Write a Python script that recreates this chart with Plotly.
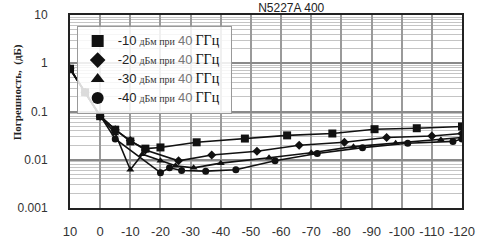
import plotly.graph_objects as go

# ---- data ----
x_tickvals = [10, 0, -10, -20, -30, -40, -50, -60, -70, -80, -90, -100, -110, -120]
x_ticktext = ["10", "0", "-10", "-20", "-30", "-40", "-50", "-60", "-70", "-80", "-90", "-100", "-110", "-120"]
y_tickvals = [0.001, 0.01, 0.1, 1, 10]
y_ticktext = ["0.001", "0.01", "0.1", "1", "10"]

s1_x = [10, 5, 0, -5, -10, -15, -20, -32, -48, -62, -77, -91, -105, -120]
s1_y = [0.77, 0.25, 0.08, 0.042, 0.024, 0.017, 0.018, 0.023, 0.0275, 0.032, 0.035, 0.043, 0.045, 0.049]

s2_x = [10, 5, 0, -5, -10, -15, -26, -37, -52, -66, -81, -95, -110, -120]
s2_y = [0.77, 0.25, 0.08, 0.042, 0.025, 0.016, 0.0095, 0.0125, 0.015, 0.020, 0.023, 0.029, 0.031, 0.035]

s3_x = [10, 5, 0, -5, -10, -14, -20, -25, -31, -40, -56, -70, -84, -98, -113, -120]
s3_y = [0.77, 0.25, 0.08, 0.035, 0.0062, 0.013, 0.0095, 0.0075, 0.0068, 0.0085, 0.011, 0.014, 0.0187, 0.022, 0.026, 0.029]

s4_x = [10, 5, 0, -5, -20, -23, -27, -35, -45, -58, -72, -87, -102, -117, -120]
s4_y = [0.77, 0.25, 0.08, 0.027, 0.0054, 0.0068, 0.006, 0.0058, 0.0062, 0.0095, 0.0135, 0.0178, 0.022, 0.024, 0.027]

levels = ["-10", "-20", "-30", "-40"]
symbols = ["square", "diamond", "triangle-up", "circle"]
sizes = [8, 7, 7, 7]
title_text = "N5227A 400"
y_title = "Погрешность,  (дБ)"


def legend_name(lvl):
    return ("<span style='font-family:Liberation Sans;font-size:13px;color:#222'>" + lvl + "</span> "
            "<span style='font-family:Liberation Serif;font-size:10px;color:#333'>дБм при</span> "
            "<span style='font-family:Liberation Sans;font-size:13px;color:#777'>40</span> "
            "<span style='font-family:Liberation Serif;font-size:14px;color:#111'>ГГц</span>\u00a0\u00a0")


fig = go.Figure()
for xs, ys, lvl, sym, sz in zip([s1_x, s2_x, s3_x, s4_x], [s1_y, s2_y, s3_y, s4_y], levels, symbols, sizes):
    fig.add_trace(go.Scatter(
        x=xs, y=ys, mode="lines+markers", name=lvl, showlegend=False,
        line=dict(color="#111111", width=1.6),
        marker=dict(symbol=sym, size=sz, color="#111111"),
    ))
# legend entries show the marker only, as in the reference
for lvl, sym in zip(levels, symbols):
    fig.add_trace(go.Scatter(
        x=[None], y=[None], mode="markers", name=legend_name(lvl),
        marker=dict(symbol=sym, size=8, color="#111111"),
    ))

minor_vals = []
for d in [0.001, 0.01, 0.1, 1]:
    for k in range(2, 10):
        minor_vals.append(d * k)

fig.update_layout(
    width=482, height=246,
    margin=dict(l=70, r=7, t=15, b=22),
    paper_bgcolor="white", plot_bgcolor="white",
    font=dict(family="Liberation Sans", size=12, color="#333"),
    showlegend=True,
    title=dict(text=title_text, x=272 / 482, xanchor="center", xref="paper",
               y=0.985, yanchor="top", yref="container", pad=dict(t=0),
               font=dict(family="Liberation Sans", size=12, color="#222")),
    legend=dict(
        x=0.017, y=0.945, xanchor="left", yanchor="top",
        bgcolor="rgba(255,255,255,0.85)", bordercolor="#999", borderwidth=1,
        tracegroupgap=0, itemsizing="constant", itemwidth=30,
        font=dict(size=11),
    ),
    xaxis=dict(
        range=[10, -120], tickvals=x_tickvals, ticktext=x_ticktext,
        showgrid=True, gridcolor="#9a9a9a", gridwidth=2,
        zeroline=False, showline=True, linecolor="#222", linewidth=2, mirror=True,
        ticks="", ticklabelstandoff=10, ticklabeloverflow="allow",
        tickfont=dict(size=13, color="#333"),
    ),
    yaxis=dict(
        type="log", range=[-3, 1], tickvals=y_tickvals, ticktext=y_ticktext,
        showgrid=True, gridcolor="#8a8a8a", gridwidth=1.5,
        minor=dict(tickvals=minor_vals, showgrid=True, gridcolor="#c4c4c4", gridwidth=1, ticks=""),
        zeroline=False, showline=True, linecolor="#222", linewidth=2, mirror=True,
        ticks="", ticklabelstandoff=18,
        tickfont=dict(size=12, color="#333"),
    ),
    annotations=[
        dict(text="<b>" + y_title + "</b>", x=-0.135, y=0.6, xref="paper", yref="paper",
             xanchor="center", yanchor="middle", textangle=-90, showarrow=False,
             font=dict(family="Liberation Serif", size=11, color="#222")),
    ],
)

fig.write_html("out.html")
